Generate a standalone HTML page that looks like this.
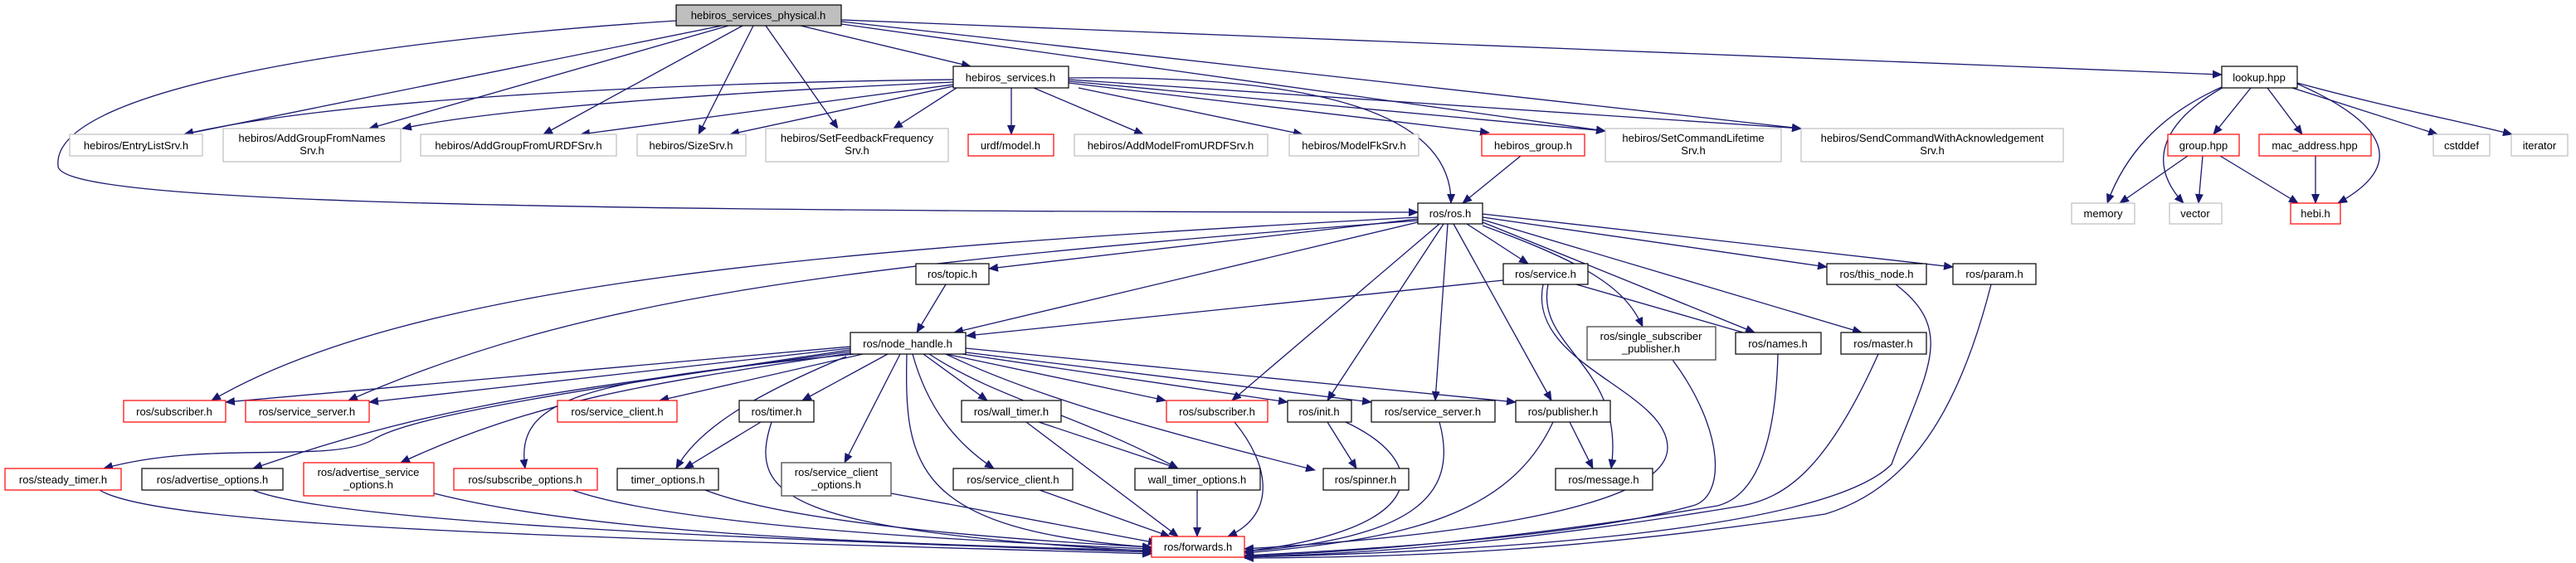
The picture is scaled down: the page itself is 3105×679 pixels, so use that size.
<!DOCTYPE html>
<html><head><meta charset="utf-8"><style>
html,body{margin:0;padding:0;background:#fff}
svg{display:block}
text{font-family:"Liberation Sans",sans-serif;font-size:13px;fill:#000;text-anchor:middle}
.e{fill:none;stroke:#191970;stroke-width:1.3;marker-end:url(#a)}
.b{fill:#fff;stroke:#000;stroke-width:1.2}
.g{fill:#fff;stroke:#bfbfbf;stroke-width:1.2}
.r{fill:#fff;stroke:#ff0000;stroke-width:1.2}
.d{fill:#fff;stroke:#555;stroke-width:1.4}
</style></head><body>
<svg width="3105" height="679" viewBox="0 0 3105 679" xmlns="http://www.w3.org/2000/svg">
<defs><marker id="a" markerUnits="userSpaceOnUse" markerWidth="12" markerHeight="10" refX="11" refY="5" orient="auto"><path d="M0,0 L12,5 L0,10 z" fill="#191970"/></marker></defs>

<!-- edges top -->
<path class="e" d="M870,31 L222,162"/>
<path class="e" d="M878,31 L445,155"/>
<path class="e" d="M895,31 L655,162"/>
<path class="e" d="M908,31 L842,162"/>
<path class="e" d="M923,31 L1010,155"/>
<path class="e" d="M965,31 L1170,80"/>
<path class="e" d="M1014,29 L1935,158"/>
<path class="e" d="M1014,26 L2171,155"/>
<path class="e" d="M1014,24 L2678,90"/>
<path class="e" d="M815,25 C500,45 60,100 70,200 C70,240 500,255 1709,256"/>
<!-- hebiros_services -->
<path class="e" d="M1149,96 C800,100 400,120 222,162"/>
<path class="e" d="M1149,99 C900,110 600,130 485,155"/>
<path class="e" d="M1149,102 L700,162"/>
<path class="e" d="M1149,104 L880,162"/>
<path class="e" d="M1153,106 L1077,155"/>
<path class="e" d="M1219,106 L1219,162"/>
<path class="e" d="M1246,106 L1378,162"/>
<path class="e" d="M1300,106 L1570,162"/>
<path class="e" d="M1288,100 L1795,160"/>
<path class="e" d="M1288,98 L1935,158"/>
<path class="e" d="M1288,96 L2171,155"/>
<path class="e" d="M1288,94 C1600,90 1750,140 1749,245"/>
<path class="e" d="M1833,188 L1763,245"/>
<!-- lookup -->
<path class="e" d="M2678,105 C2600,140 2560,190 2540,245"/>
<path class="e" d="M2682,104 C2600,150 2590,200 2632,245"/>
<path class="e" d="M2713,106 L2668,162"/>
<path class="e" d="M2733,106 L2775,162"/>
<path class="e" d="M2763,106 L2938,162"/>
<path class="e" d="M2769,100 C2880,130 2960,145 3028,162"/>
<path class="e" d="M2769,101 C2880,150 2900,200 2818,245"/>
<path class="e" d="M2637,188 L2555,245"/>
<path class="e" d="M2655,188 L2650,245"/>
<path class="e" d="M2676,188 L2770,245"/>
<path class="e" d="M2791,188 L2791,245"/>
<!-- ros.h -->
<path class="e" d="M1709,262 C1000,300 500,340 255,483"/>
<path class="e" d="M1709,266 C1000,320 700,360 420,483"/>
<path class="e" d="M1709,264 L1192,324"/>
<path class="e" d="M1709,268 L1150,401"/>
<path class="e" d="M1735,270 L1485,483"/>
<path class="e" d="M1740,270 L1600,483"/>
<path class="e" d="M1745,270 L1730,483"/>
<path class="e" d="M1752,270 L1870,483"/>
<path class="e" d="M1768,270 L1842,318"/>
<path class="e" d="M1787,272 C1920,320 1960,350 1980,394"/>
<path class="e" d="M1787,268 L2115,401"/>
<path class="e" d="M1787,265 L2244,401"/>
<path class="e" d="M1787,262 L2202,322"/>
<path class="e" d="M1787,258 L2354,322"/>
<path class="e" d="M1140,343 L1105,401"/>
<path class="e" d="M1812,338 L1165,405"/>
<path class="e" d="M1900,343 L2115,405"/>
<path class="e" d="M1866,343 C1850,420 1960,440 1942,565"/>
<path class="e" d="M1860,343 C1840,440 2010,470 2010,540 C2010,620 1700,650 1500,662"/>
<!-- node_handle -->
<path class="e" d="M1025,418 L272,485"/>
<path class="e" d="M1025,420 L445,485"/>
<path class="e" d="M1025,422 C700,470 500,500 450,530 C400,560 250,530 125,565"/>
<path class="e" d="M1025,424 C700,470 550,480 305,565"/>
<path class="e" d="M1025,426 C800,460 650,480 483,558"/>
<path class="e" d="M1030,427 C700,460 620,480 633,565"/>
<path class="e" d="M1040,427 L795,483"/>
<path class="e" d="M1070,427 L967,483"/>
<path class="e" d="M1020,430 C900,480 840,520 815,565"/>
<path class="e" d="M1085,427 L1018,558"/>
<path class="e" d="M1093,427 C1090,560 1100,640 1388,660"/>
<path class="e" d="M1100,427 C1120,500 1160,540 1198,565"/>
<path class="e" d="M1113,427 L1190,483"/>
<path class="e" d="M1120,427 C1200,480 1300,500 1420,565"/>
<path class="e" d="M1140,427 C1250,480 1400,520 1585,567"/>
<path class="e" d="M1140,427 L1405,483"/>
<path class="e" d="M1160,427 L1552,485"/>
<path class="e" d="M1164,425 L1653,485"/>
<path class="e" d="M1164,420 L1827,485"/>
<!-- lower -->
<path class="e" d="M917,509 L825,565"/>
<path class="e" d="M930,509 C900,600 950,640 1390,665"/>
<path class="e" d="M1252,509 L1420,565"/>
<path class="e" d="M1237,509 L1420,647"/>
<path class="e" d="M1443,591 L1443,647"/>
<path class="e" d="M1253,591 L1410,647"/>
<path class="e" d="M1074,595 L1395,655"/>
<path class="e" d="M120,591 C200,640 800,650 1388,668"/>
<path class="e" d="M305,591 C400,630 900,650 1388,666"/>
<path class="e" d="M523,595 C700,640 1000,655 1388,664"/>
<path class="e" d="M690,591 C800,630 1100,650 1388,662"/>
<path class="e" d="M850,591 C950,630 1200,650 1388,660"/>
<path class="e" d="M1488,509 C1530,560 1540,620 1480,647"/>
<path class="e" d="M1600,509 L1635,565"/>
<path class="e" d="M1622,509 C1730,560 1720,640 1500,665"/>
<path class="e" d="M1735,509 C1760,600 1700,650 1500,665"/>
<path class="e" d="M1892,509 L1920,565"/>
<path class="e" d="M1872,509 C1820,620 1700,650 1500,667"/>
<path class="e" d="M2016,434 C2080,520 2080,600 2040,610 C1900,650 1600,665 1500,670"/>
<path class="e" d="M2143,427 C2140,550 2110,600 2070,610 C1800,655 1600,668 1500,670"/>
<path class="e" d="M2264,427 C2200,570 2150,600 2100,610 C1800,660 1600,670 1500,671"/>
<path class="e" d="M2285,343 C2360,400 2320,450 2280,560 C2200,640 1800,665 1500,672"/>
<path class="e" d="M2400,343 C2360,500 2300,590 2200,620 C1900,665 1700,672 1500,673"/>

<!-- nodes -->
<rect x="815" y="6" width="199" height="25" fill="#bfbfbf" stroke="#000" stroke-width="1.2"/><text x="914" y="23">hebiros_services_physical.h</text>
<rect class="g" x="84" y="162" width="160" height="26"/><text x="164" y="180">hebiros/EntryListSrv.h</text>
<rect class="g" x="269" y="155" width="214" height="40"/><text x="376" y="171">hebiros/AddGroupFromNames</text><text x="376" y="186">Srv.h</text>
<rect class="g" x="507" y="162" width="236" height="26"/><text x="625" y="180">hebiros/AddGroupFromURDFSrv.h</text>
<rect class="g" x="768" y="162" width="131" height="26"/><text x="833" y="180">hebiros/SizeSrv.h</text>
<rect class="g" x="923" y="155" width="220" height="40"/><text x="1033" y="171">hebiros/SetFeedbackFrequency</text><text x="1033" y="186">Srv.h</text>
<rect class="b" x="1149" y="80" width="139" height="26"/><text x="1218" y="98">hebiros_services.h</text>
<rect class="r" x="1167" y="162" width="103" height="26"/><text x="1218" y="180">urdf/model.h</text>
<rect class="g" x="1295" y="162" width="233" height="26"/><text x="1411" y="180">hebiros/AddModelFromURDFSrv.h</text>
<rect class="g" x="1554" y="162" width="156" height="26"/><text x="1632" y="180">hebiros/ModelFkSrv.h</text>
<rect class="r" x="1786" y="162" width="124" height="26"/><text x="1848" y="180">hebiros_group.h</text>
<rect class="g" x="1935" y="155" width="212" height="40"/><text x="2041" y="171">hebiros/SetCommandLifetime</text><text x="2041" y="186">Srv.h</text>
<rect class="g" x="2171" y="155" width="316" height="40"/><text x="2329" y="171">hebiros/SendCommandWithAcknowledgement</text><text x="2329" y="186">Srv.h</text>
<rect class="b" x="2678" y="80" width="91" height="26"/><text x="2723" y="98">lookup.hpp</text>
<rect class="r" x="2613" y="162" width="86" height="26"/><text x="2656" y="180">group.hpp</text>
<rect class="r" x="2723" y="162" width="135" height="26"/><text x="2790" y="180">mac_address.hpp</text>
<rect class="g" x="2933" y="162" width="68" height="26"/><text x="2967" y="180">cstddef</text>
<rect class="g" x="3027" y="162" width="68" height="26"/><text x="3061" y="180">iterator</text>
<rect class="g" x="2497" y="245" width="76" height="25"/><text x="2535" y="262">memory</text>
<rect class="g" x="2615" y="245" width="63" height="25"/><text x="2646" y="262">vector</text>
<rect class="r" x="2761" y="245" width="60" height="25"/><text x="2791" y="262">hebi.h</text>
<rect class="b" x="1709" y="245" width="78" height="25"/><text x="1748" y="262">ros/ros.h</text>
<rect class="b" x="1104" y="318" width="88" height="25"/><text x="1148" y="335">ros/topic.h</text>
<rect class="b" x="1812" y="318" width="102" height="25"/><text x="1863" y="335">ros/service.h</text>
<rect class="b" x="2202" y="318" width="120" height="25"/><text x="2262" y="335">ros/this_node.h</text>
<rect class="b" x="2354" y="318" width="100" height="25"/><text x="2404" y="335">ros/param.h</text>
<rect class="b" x="1025" y="401" width="139" height="26"/><text x="1094" y="419">ros/node_handle.h</text>
<rect class="d" x="1913" y="394" width="155" height="40"/><text x="1990" y="410">ros/single_subscriber</text><text x="1990" y="425">_publisher.h</text>
<rect class="b" x="2092" y="401" width="103" height="26"/><text x="2143" y="419">ros/names.h</text>
<rect class="b" x="2219" y="401" width="103" height="26"/><text x="2270" y="419">ros/master.h</text>
<rect class="r" x="149" y="483" width="123" height="26"/><text x="210" y="501">ros/subscriber.h</text>
<rect class="r" x="296" y="483" width="149" height="26"/><text x="370" y="501">ros/service_server.h</text>
<rect class="r" x="672" y="483" width="144" height="26"/><text x="744" y="501">ros/service_client.h</text>
<rect class="b" x="891" y="483" width="90" height="26"/><text x="936" y="501">ros/timer.h</text>
<rect class="b" x="1159" y="483" width="120" height="26"/><text x="1219" y="501">ros/wall_timer.h</text>
<rect class="r" x="1406" y="483" width="122" height="26"/><text x="1467" y="501">ros/subscriber.h</text>
<rect class="b" x="1552" y="483" width="77" height="26"/><text x="1590" y="501">ros/init.h</text>
<rect class="b" x="1653" y="483" width="149" height="26"/><text x="1727" y="501">ros/service_server.h</text>
<rect class="b" x="1827" y="483" width="114" height="26"/><text x="1884" y="501">ros/publisher.h</text>
<rect class="r" x="6" y="565" width="140" height="26"/><text x="76" y="583">ros/steady_timer.h</text>
<rect class="b" x="171" y="565" width="170" height="26"/><text x="256" y="583">ros/advertise_options.h</text>
<rect class="r" x="366" y="558" width="157" height="40"/><text x="444" y="574">ros/advertise_service</text><text x="444" y="589">_options.h</text>
<rect class="r" x="547" y="565" width="173" height="26"/><text x="633" y="583">ros/subscribe_options.h</text>
<rect class="b" x="744" y="565" width="122" height="26"/><text x="805" y="583">timer_options.h</text>
<rect class="d" x="942" y="558" width="132" height="40"/><text x="1008" y="574">ros/service_client</text><text x="1008" y="589">_options.h</text>
<rect class="b" x="1149" y="565" width="144" height="26"/><text x="1221" y="583">ros/service_client.h</text>
<rect class="b" x="1368" y="565" width="151" height="26"/><text x="1443" y="583">wall_timer_options.h</text>
<rect class="b" x="1595" y="565" width="103" height="26"/><text x="1646" y="583">ros/spinner.h</text>
<rect class="b" x="1875" y="565" width="117" height="26"/><text x="1933" y="583">ros/message.h</text>
<rect class="r" x="1388" y="647" width="112" height="25"/><text x="1444" y="664">ros/forwards.h</text>
</svg>
</body></html>
